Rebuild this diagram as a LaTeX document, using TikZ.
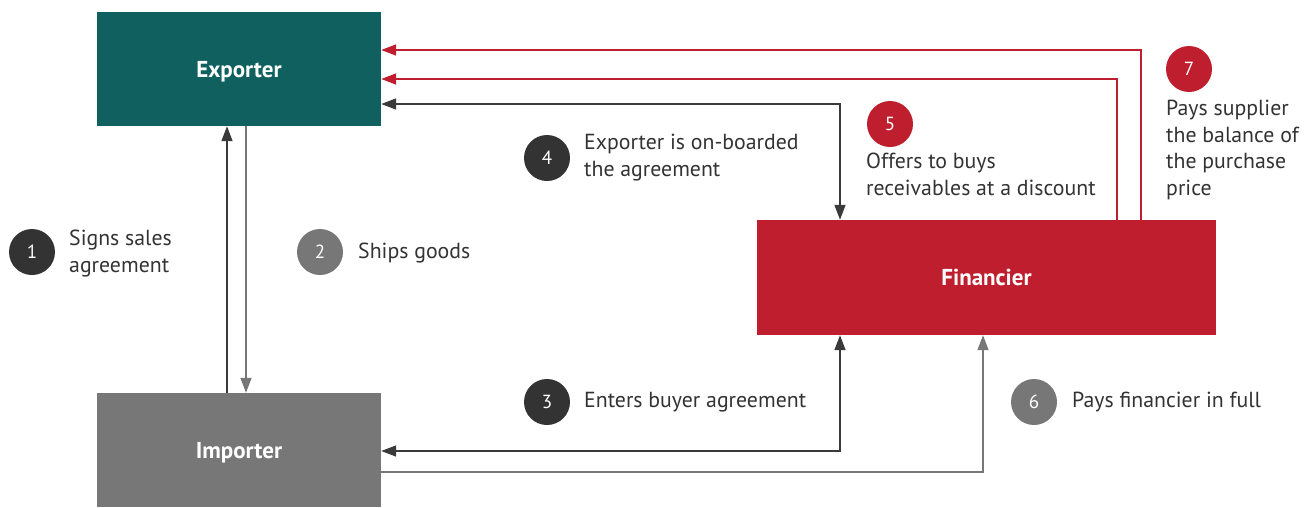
\documentclass[tikz,border=0pt]{standalone}
\usepackage{fontspec}
\setmainfont{PT Sans}
\usetikzlibrary{arrows.meta}
\definecolor{teal1}{HTML}{10605F}
\definecolor{gray1}{HTML}{777777}
\definecolor{red1}{HTML}{BE1E2D}
\definecolor{dark1}{HTML}{333333}
\definecolor{line1}{HTML}{3A3A3A}
\begin{document}
\begin{tikzpicture}[x=1pt,y=-1pt,
  box/.style={draw=none,inner sep=0pt,text height=16pt,text depth=0pt,font=\fontsize{23}{26}\selectfont\bfseries,text=white},
  num/.style={circle,minimum size=46pt,inner sep=0pt,text=white,font=\fontsize{19}{22}\selectfont},
  lbl/.style={anchor=north west,inner sep=0pt,align=left,text=dark1,font=\fontsize{21.8}{26.5}\selectfont},
  arr/.style={line width=1.5pt,-{Triangle[length=15pt,width=11pt]}},
  barr/.style={line width=1.5pt,{Triangle[length=15pt,width=11pt]}-{Triangle[length=15pt,width=11pt]}}]
\useasboundingbox (0,0) rectangle (1310,507);
\node[box,fill=teal1,minimum width=284pt,minimum height=114pt] (exp) at (239,69) {Exporter};
\node[box,fill=gray1,minimum width=284pt,minimum height=114pt] (imp) at (239,450) {Importer};
\node[box,fill=red1,minimum width=459pt,minimum height=115pt] (fin) at (986.5,277.5) {Financier};
% 1 and 2
\draw[arr,draw=line1,-{Triangle[length=15pt,width=11pt,fill=line1]}] (imp.north -| 227,0) -- (exp.south -| 227,0);
\draw[arr,draw=gray1] (exp.south -| 246,0) -- (imp.north -| 246,0);
% 4
\coordinate (c4) at (840,104);
\draw[barr,draw=line1] (exp.east |- c4) -- (c4) -- (fin.north -| c4);
% red lines
\coordinate (r1) at (1117,79);
\coordinate (r2) at (1141,50);
\draw[arr,draw=red1] (fin.north -| r1) -- (r1) -- (exp.east |- r1);
\draw[arr,draw=red1] (fin.north -| r2) -- (r2) -- (exp.east |- r2);
% 3
\coordinate (c3) at (840,451);
\draw[barr,draw=line1] (imp.east |- c3) -- (c3) -- (fin.south -| c3);
% 6
\coordinate (c6) at (983,472);
\draw[arr,draw=gray1] (imp.east |- c6) -- (c6) -- (fin.south -| c6);
% circles
\node[num,fill=dark1] (n1) at (32,252) {1};
\node[num,fill=gray1] (n2) at (320,252) {2};
\node[num,fill=dark1] (n4) at (547,158) {4};
\node[num,fill=dark1] (n3) at (547,402) {3};
\node[num,fill=red1] (n5) at (890,124) {5};
\node[num,fill=gray1] (n6) at (1034,402) {6};
\node[num,fill=red1] (n7) at (1189,69) {7};
% labels
\node[lbl] (t1) at (69,230) {Signs sales\\agreement};
\node[lbl] (t2) at (358,243) {Ships goods};
\node[lbl] (t4) at (584,134) {Exporter is on-boarded\\the agreement};
\node[lbl] (t3) at (584,392) {Enters buyer agreement};
\node[lbl] (t5) at (866,153) {Offers to buys\\receivables at a discount};
\node[lbl] (t6) at (1072,392) {Pays financier in full};
\node[lbl] (t7) at (1166,100) {Pays supplier\\the balance of\\the purchase\\price};
\end{tikzpicture}
\end{document}
